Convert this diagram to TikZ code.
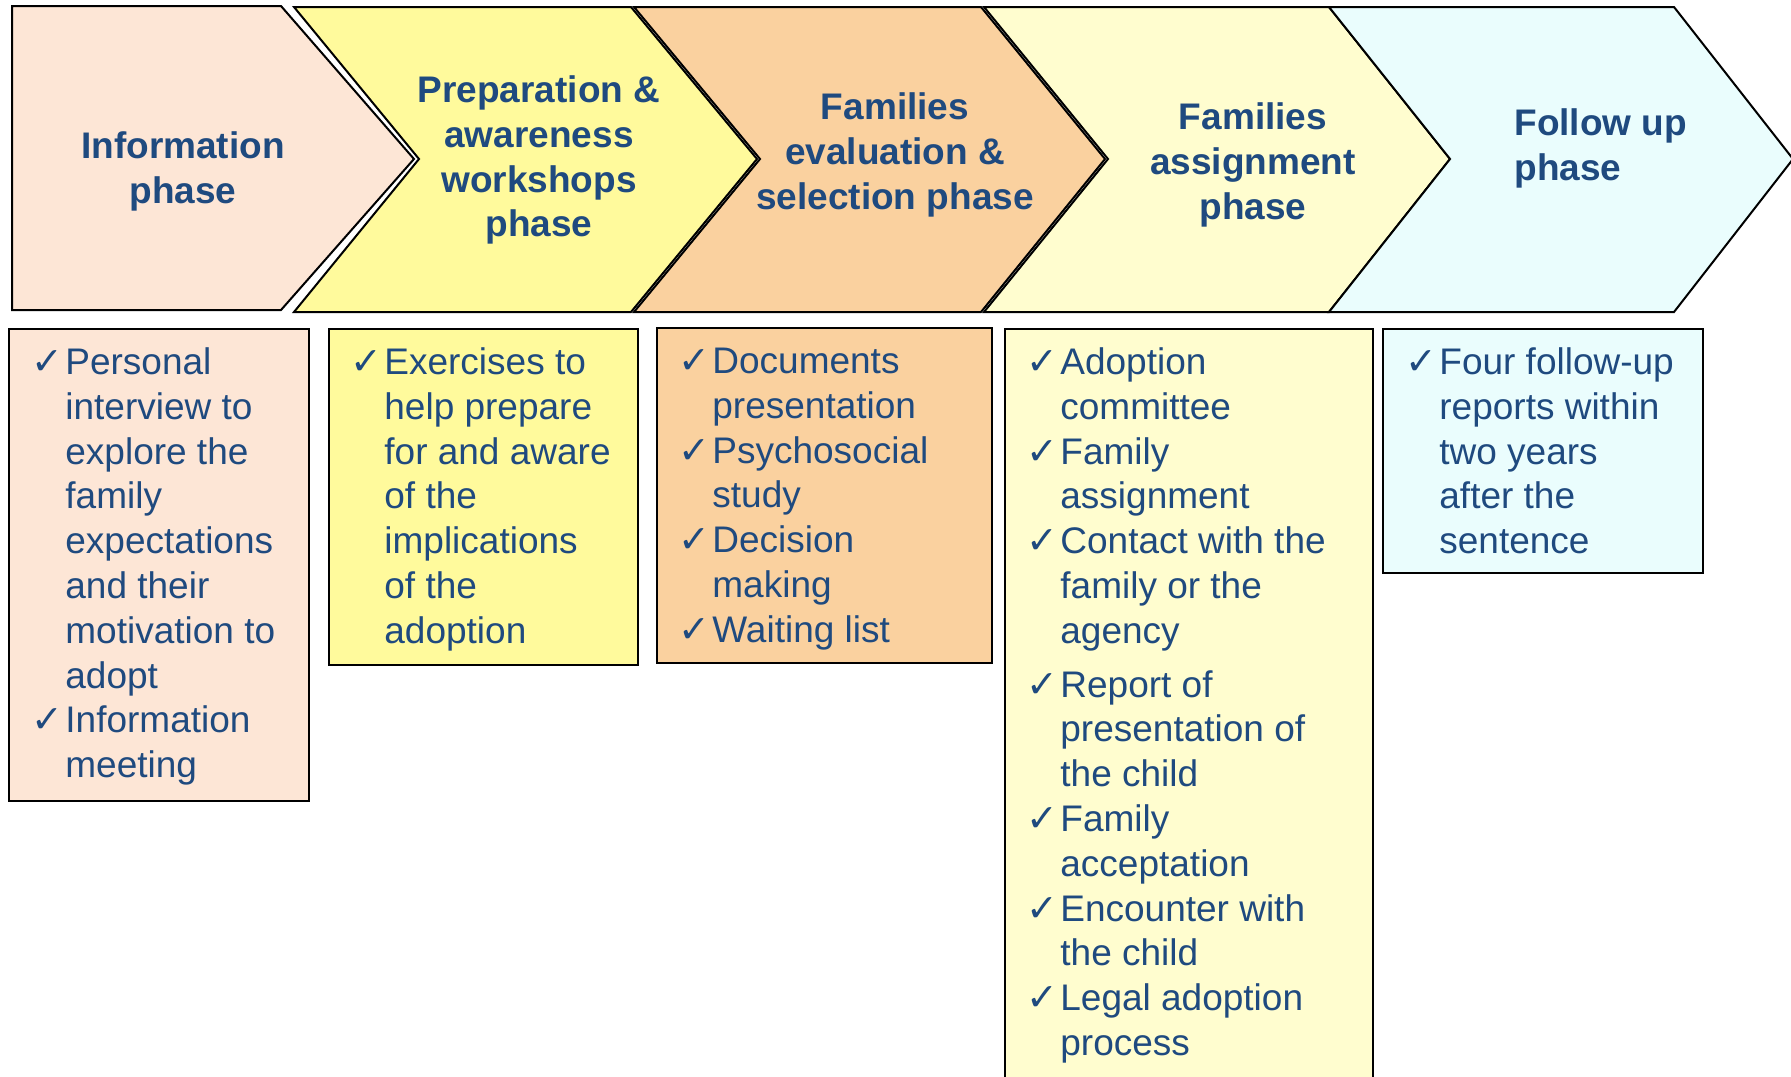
\documentclass[tikz,border=0pt]{standalone}
\usepackage{fontspec}
\setmainfont{Liberation Sans}
\newfontfamily\checkfont{DejaVu Sans}

\definecolor{navy}{HTML}{1F4A7F}
\definecolor{peach}{HTML}{FDE6D6}
\definecolor{lemon}{HTML}{FFFA9C}
\definecolor{apricot}{HTML}{FAD19F}
\definecolor{cream}{HTML}{FFFDCF}
\definecolor{ice}{HTML}{EAFDFD}

\newcommand{\chk}{\makebox[17pt][l]{\checkfont\fontsize{19pt}{19pt}\selectfont ✓}}
\newcommand{\ind}{\hspace*{17pt}}
\newcommand{\topline}{\rule{0pt}{15pt}}

\tikzset{
  phase/.style={draw=black,line width=1pt,line join=miter},
  phasetext/.style={font=\fontsize{18.5pt}{22.4pt}\selectfont\bfseries,text=navy,
    align=center,anchor=north,inner sep=0pt},
  listbox/.style={draw=black,line width=1pt,anchor=north west,inner sep=0pt},
  listtext/.style={font=\fontsize{18.5pt}{22.4pt}\selectfont,text=navy,
    align=left,anchor=north west,inner sep=0pt}
}

\begin{document}
\begin{tikzpicture}[x=0.5pt,y=-0.5pt]
  \useasboundingbox (0,0) rectangle (1791,1076);

  % phases
  \draw [phase,fill=peach]   (12,6) -- (281,6) -- (414,159) -- (281,310) -- (12,310) -- cycle;
  \draw [phase,fill=lemon]   (294,7) -- (631,7) -- (757,159) -- (631,312) -- (294,312) -- (419,159) -- cycle;
  \draw [phase,fill=apricot] (634,7) -- (981,7) -- (1105,159) -- (981,312) -- (634,312) -- (760,159) -- cycle;
  \draw [phase,fill=cream]   (984,7) -- (1329,7) -- (1450,159) -- (1329,312) -- (984,312) -- (1108,159) -- cycle;
  \draw [phase,fill=ice]     (1329,7) -- (1674,7) -- (1793,159) -- (1674,312) -- (1329,312) -- (1450,159) -- cycle;

  \node [phasetext] (info)    at (183,128)  {\topline Information\\phase};
  \node [phasetext] (prep)    at (539,72)   {\topline Preparation \&\\awareness\\workshops\\phase};
  \node [phasetext] (select)  at (895,89)   {\topline Families\\evaluation \&\\selection phase};
  \node [phasetext] (assign)  at (1253,99)  {\topline Families\\assignment\\phase};
  \node [phasetext,align=left,anchor=north west] (follow) at (1514,105) {\topline Follow up\\phase};

  % task lists
  \node [listbox,fill=peach,minimum width=150pt,minimum height=236pt]     (infobox)   at (8,328)    {};
  \node [listbox,fill=lemon,minimum width=154.5pt,minimum height=168pt]   (prepbox)   at (328,328)  {};
  \node [listbox,fill=apricot,minimum width=167.5pt,minimum height=167.5pt] (selectbox) at (656,327) {};
  \node [listbox,fill=cream,minimum width=184pt,minimum height=385pt]     (assignbox) at (1004,328) {};
  \node [listbox,fill=ice,minimum width=160pt,minimum height=122pt]       (followbox) at (1382,328) {};

  \node [listtext] (infolist) at ([shift={(23,16)}]infobox.north west)
    {\topline\chk Personal\\ \ind interview to\\ \ind explore the\\ \ind family\\
     \ind expectations\\ \ind and their\\ \ind motivation to\\ \ind adopt\\
     \chk Information\\ \ind meeting};
  \node [listtext] (preplist) at ([shift={(22,16)}]prepbox.north west)
    {\topline\chk Exercises to\\ \ind help prepare\\ \ind for and aware\\ \ind of the\\
     \ind implications\\ \ind of the\\ \ind adoption};
  \node [listtext] (selectlist) at ([shift={(22,16)}]selectbox.north west)
    {\topline\chk Documents\\ \ind presentation\\ \chk Psychosocial\\ \ind study\\
     \chk Decision\\ \ind making\\ \chk Waiting list};
  \node [listtext] (assignlist) at ([shift={(22,16)}]assignbox.north west)
    {\topline\chk Adoption\\ \ind committee\\ \chk Family\\ \ind assignment\\
     \chk Contact with the\\ \ind family or the\\ \ind agency\\[4.5pt]
     \chk Report of\\ \ind presentation of\\ \ind the child\\ \chk Family\\
     \ind acceptation\\ \chk Encounter with\\ \ind the child\\
     \chk Legal adoption\\ \ind process};
  \node [listtext] (followlist) at ([shift={(23,16)}]followbox.north west)
    {\topline\chk Four follow-up\\ \ind reports within\\ \ind two years\\
     \ind after the\\ \ind sentence};
\end{tikzpicture}
\end{document}
